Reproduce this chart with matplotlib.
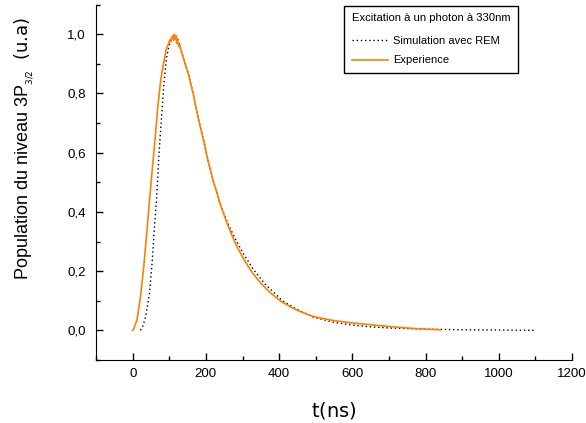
import numpy as np
import matplotlib
matplotlib.use('Agg')
from matplotlib import pyplot as plt
from matplotlib.ticker import MultipleLocator, FuncFormatter

# experience (orange)
t_exp = [0, 3, 12, 21, 30, 37, 46, 55, 62, 69, 77, 85, 92, 97, 101, 104, 106, 108, 110,
         112, 114, 116, 118, 120, 122, 125, 128, 133, 139, 146, 153, 160, 166, 173, 180,
         187, 194, 200, 207, 214, 221, 230, 239, 250, 260, 272, 286, 300, 315, 330, 348,
         375, 403, 430, 460, 493, 520, 550, 600, 650, 700, 750, 800, 840]
y_exp = [0.0, 0.005, 0.037, 0.11, 0.212, 0.31, 0.44, 0.565, 0.659, 0.76, 0.85, 0.907,
         0.952, 0.965, 0.98, 0.975, 0.99, 0.985, 0.995, 0.98, 1.0, 0.985, 0.995, 0.97,
         0.985, 0.96, 0.965, 0.94, 0.918, 0.89, 0.862, 0.825, 0.795, 0.752, 0.712, 0.675,
         0.64, 0.605, 0.568, 0.535, 0.5, 0.465, 0.427, 0.388, 0.355, 0.318, 0.28, 0.248,
         0.217, 0.19, 0.162, 0.128, 0.1, 0.08, 0.062, 0.047, 0.04, 0.033, 0.025,
         0.019, 0.013, 0.008, 0.004, 0.002]

# simulation avec REM (dotted)
t_sim = [21, 28, 35, 40, 46, 53, 59, 65, 71, 77, 85, 92, 98, 103, 109, 115, 121, 128,
         139, 153, 166, 180, 194, 207, 221, 239, 260, 280, 302, 330, 362, 410, 450, 493,
         550, 600, 650, 700, 800, 900, 1000, 1100]
y_sim = [0.0, 0.015, 0.045, 0.08, 0.127, 0.229, 0.342, 0.44, 0.58, 0.69, 0.828, 0.918,
         0.955, 0.975, 0.99, 0.997, 0.99, 0.964, 0.918, 0.862, 0.795, 0.712, 0.64,
         0.568, 0.5, 0.427, 0.36, 0.31, 0.26, 0.205, 0.156, 0.099, 0.07, 0.045, 0.027,
         0.018, 0.012, 0.008, 0.004, 0.002, 0.001, 0.0]

plt.rcParams['font.family'] = ['Liberation Sans', 'DejaVu Sans']
plt.rcParams['mathtext.fontset'] = 'dejavusans'

fig = plt.figure(figsize=(5.86, 4.23), dpi=100)
ax = fig.add_axes([0.164, 0.149, 0.812, 0.84])

ax.plot(t_sim, y_sim, color='black', lw=1.0, ls=(0, (1, 2)), label='Simulation avec REM')
ax.plot(t_exp, y_exp, color='#ff8000', lw=1.2, label='Experience')

ax.set_xlim(-100, 1200)
ax.set_ylim(-0.1, 1.1)
ax.spines['top'].set_visible(False)
ax.spines['right'].set_visible(False)
ax.xaxis.set_major_locator(MultipleLocator(200))
ax.xaxis.set_minor_locator(MultipleLocator(100))
ax.yaxis.set_major_locator(MultipleLocator(0.2))
ax.yaxis.set_minor_locator(MultipleLocator(0.1))
ax.yaxis.set_major_formatter(FuncFormatter(lambda v, p: ('%.1f' % v).replace('.', ',')))
ax.tick_params(which='both', direction='in', labelsize=9.6, width=1)
ax.tick_params(which='major', length=5)
ax.tick_params(axis='y', pad=7.5)
ax.tick_params(axis='x', pad=6)
ax.tick_params(which='minor', length=3)

ax.set_xlabel(r'$\mathsf{t}\left(\mathsf{ns}\right)$', fontsize=14, labelpad=14)
ax.set_ylabel(r'Population du niveau 3P$_{_{3/2}}$  $\left(\mathsf{u.\!a}\right)$',
              fontsize=13)
ax.yaxis.set_label_coords(-0.127, 0.596)

leg = ax.legend(title='Excitation à un photon à 330nm', loc='upper right',
                bbox_to_anchor=(0.887, 0.997), borderaxespad=0, fontsize=8,
                title_fontsize=8.1, fancybox=False, edgecolor='black',
                handlelength=3.3, handletextpad=0.4, labelspacing=0.85,
                borderpad=0.7, framealpha=1)
leg._legend_box.align = 'left'
leg._legend_box.sep = 9
leg.get_frame().set_linewidth(1.0)

fig.savefig('out.png', dpi=100)
